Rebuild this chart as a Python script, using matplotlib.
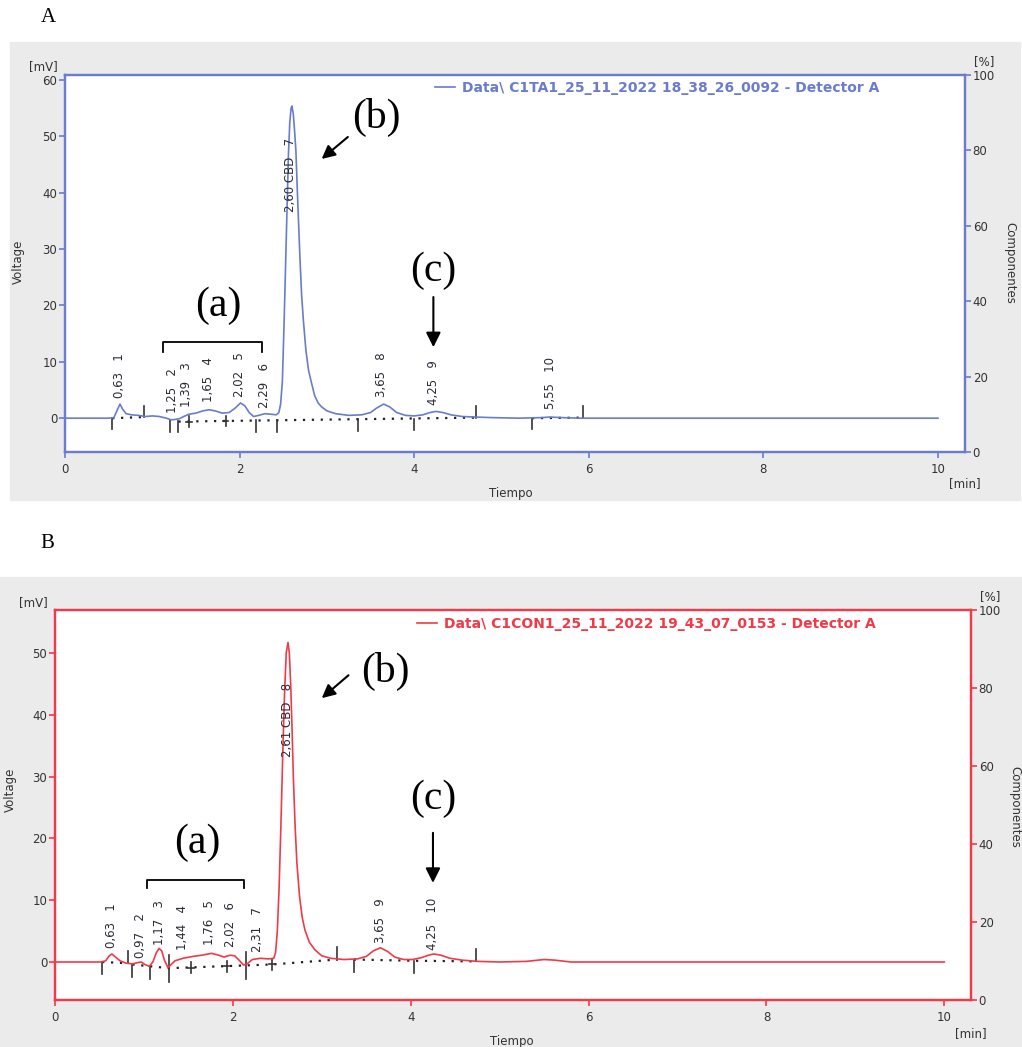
import numpy as np
import matplotlib.pyplot as plt
from matplotlib.patches import Rectangle

# ---- chromatogram A (C1TA1) : time [min], signal [mV]
t_a = [0.0, 0.50, 0.56, 0.60, 0.63, 0.66, 0.70, 0.76, 0.84, 0.92, 1.00, 1.08, 1.16, 1.22, 1.27,
       1.31, 1.36, 1.42, 1.50, 1.58, 1.65, 1.72, 1.80, 1.88, 1.95, 2.01, 2.06, 2.11, 2.16, 2.22,
       2.29, 2.36, 2.42, 2.45, 2.47, 2.49, 2.51, 2.53, 2.545, 2.56, 2.575, 2.59, 2.60, 2.615,
       2.63, 2.645, 2.66, 2.675, 2.69, 2.71, 2.73, 2.76, 2.79, 2.82, 2.86, 2.90, 2.94, 3.00,
       3.10, 3.25, 3.40, 3.50, 3.57, 3.65, 3.72, 3.80, 3.90, 4.00, 4.10, 4.18, 4.25, 4.33, 4.42,
       4.55, 4.70, 4.90, 5.20, 5.45, 5.55, 5.70, 5.90, 10.0]
v_a = [0.0, 0.0, 0.1, 1.5, 2.5, 1.6, 0.8, 0.6, 0.5, 0.3, 0.4, 0.3, 0.0, -0.3, -0.2,
       -0.1, 0.3, 0.7, 0.9, 1.3, 1.5, 1.3, 0.9, 1.0, 1.8, 2.7, 2.2, 1.0, 0.3, 0.5,
       0.8, 0.7, 0.6, 1.0, 2.5, 6.5, 17, 29, 38, 47, 52.5, 55, 55.4, 54,
       51, 47.5, 41, 35, 29, 22, 17.5, 12, 8.5, 6.5, 4.0, 2.7, 2.0, 1.3,
       0.8, 0.5, 0.6, 1.0, 1.8, 2.5, 2.0, 1.0, 0.5, 0.4, 0.6, 1.0, 1.2, 1.0, 0.6,
       0.3, 0.2, 0.1, 0.0, 0.1, 0.2, 0.1, 0.0, 0.0]

lab_a = ["0,63   1", "1,25   2", "1,39   3", "1,65   4", "2,02   5", "2,29   6",
         "2,60 CBD   7", "3,65   8", "4,25   9", "5,55   10"]
lab_a_t = [0.63, 1.23, 1.39, 1.64, 2.00, 2.29, 2.58, 3.62, 4.22, 5.56]
lab_a_y = [3.5, 1.0, 2.0, 2.8, 3.7, 1.8, 36.6, 3.7, 2.3, 1.6]

# integration marks: time, baseline level, kind (d=down, u=up, x=cross)
tick_a_t = [0.54, 0.91, 1.20, 1.30, 1.42, 1.84, 2.19, 2.43, 3.36, 4.00, 4.71, 5.35, 5.93]
tick_a_y = [0.0, 0.2, -0.4, -0.5, -0.6, -0.5, -0.4, -0.4, -0.2, -0.1, 0.1, 0.0, 0.1]
tick_a_k = ['d', 'u', 'd', 'd', 'x', 'x', 'd', 'd', 'd', 'd', 'u', 'd', 'u']
base_a_t = [[0.54, 0.91], [1.30, 4.71], [5.35, 5.93]]
base_a_y = [[0.0, 0.2], [-0.6, 0.1], [0.0, 0.1]]

# ---- chromatogram B (C1CON1)
t_b = [0.0, 0.52, 0.57, 0.61, 0.64, 0.68, 0.73, 0.80, 0.87, 0.93, 0.97, 1.01, 1.06, 1.10,
       1.14, 1.17, 1.20, 1.23, 1.27, 1.30, 1.35, 1.44, 1.55, 1.65, 1.76, 1.84, 1.90, 1.97,
       2.02, 2.07, 2.12, 2.16, 2.22, 2.31, 2.40, 2.46, 2.48, 2.50, 2.52, 2.54, 2.56, 2.58,
       2.60, 2.62, 2.635, 2.65, 2.665, 2.68, 2.70, 2.72, 2.75, 2.78, 2.81, 2.86, 2.92, 3.00,
       3.10, 3.25, 3.40, 3.50, 3.58, 3.66, 3.74, 3.82, 3.92, 4.02, 4.12, 4.20, 4.26, 4.34,
       4.44, 4.58, 4.75, 5.00, 5.30, 5.50, 5.62, 5.80, 10.0]
v_b = [0.0, 0.0, 0.2, 1.0, 1.3, 0.8, 0.2, -0.2, -0.3, -0.1, 0.0, -0.4, -0.7, 0.0,
       1.5, 2.2, 1.8, 0.3, -0.9, -0.5, 0.2, 0.6, 0.9, 1.1, 1.4, 1.1, 0.8, 1.1,
       1.0, 0.3, -0.5, -0.3, 0.4, 0.6, 0.5, 0.6, 1.5, 5, 12, 22, 33, 43,
       50, 51.7, 50, 45, 38, 30, 22, 16, 10.6, 7.2, 5.2, 3.2, 2.0, 1.0,
       0.6, 0.4, 0.5, 0.9, 1.8, 2.3, 1.7, 0.8, 0.4, 0.4, 0.7, 1.1, 1.3, 1.1,
       0.6, 0.3, 0.1, 0.0, 0.1, 0.4, 0.3, 0.0, 0.0]

lab_b = ["0,63   1", "0,97   2", "1,17   3", "1,44   4", "1,76   5", "2,02   6", "2,31   7",
         "2,61 CBD   8", "3,65   9", "4,25   10"]
lab_b_t = [0.64, 0.96, 1.18, 1.43, 1.74, 1.97, 2.28, 2.61, 3.66, 4.25]
lab_b_y = [2.3, 0.7, 2.8, 1.9, 2.8, 2.4, 1.6, 33.2, 3.1, 2.0]

tick_b_t = [0.53, 0.82, 0.87, 1.07, 1.28, 1.53, 1.93, 2.15, 2.44, 3.17, 3.36, 4.04, 4.73]
tick_b_y = [0.0, -0.2, -0.4, -0.8, -1.0, -0.9, -0.7, -0.6, -0.4, 0.4, 0.4, 0.2, 0.1]
tick_b_k = ['d', 'u', 'd', 'd', 'X', 'x', 'x', 'X', 'x', 'u', 'd', 'd', 'u']
base_b_t = [[0.53, 0.82], [0.87, 1.28, 2.44, 3.17], [3.36, 4.04, 4.73]]
base_b_y = [[0.0, -0.2], [-0.4, -1.0, -0.4, 0.4], [0.4, 0.2, 0.1]]

W, H = 1022, 1047
BLUE = '#6a7ccc'
RED = '#f03a48'
GRAY_BG = '#ebebeb'
TXT = '#333333'

fig = plt.figure(figsize=(W / 100, H / 100), dpi=100)


def fx(px):
    return px / W


def fy(py):
    return 1 - py / H


def panel(box, xmax, ylim, t, v, col, legend_txt, leg_xy,
          labs, lab_t, lab_y, tk_t, tk_y, tk_k, bt, by,
          bracket, a_pos, b_pos, b_arrow, c_pos, c_arrow):
    l, top, r, bot = box
    ax = fig.add_axes([fx(l), fy(bot), fx(r) - fx(l), fy(top) - fy(bot)])
    ax.set_facecolor('white')
    ax.plot(t, v, color=col, lw=1.2, label=legend_txt, zorder=3)
    ax.set_xlim(0, xmax)
    ax.set_ylim(*ylim)
    ax.set_xticks([0, 2, 4, 6, 8, 10])
    ax.set_yticks([t_ for t_ in [0, 10, 20, 30, 40, 50, 60] if t_ <= ylim[1]])
    ax.tick_params(axis='x', length=4, width=1.2, color=col, pad=4, labelsize=8.5, labelcolor=TXT)
    ax.tick_params(axis='y', length=4.5, width=1.2, color=col, pad=1, labelsize=8.5, labelcolor=TXT)
    for s in ax.spines.values():
        s.set_color(col)
        s.set_linewidth(1.6)

    ax2 = ax.twinx()
    ax2.set_ylim(0, 100)
    ax2.set_yticks([0, 20, 40, 60, 80, 100])
    ax2.tick_params(axis='y', length=4.5, width=1.2, color=col, pad=1, labelsize=8.5, labelcolor=TXT)
    for s in ax2.spines.values():
        s.set_color(col)
        s.set_linewidth(1.6)

    # integration baseline and marks
    for xs, ys in zip(bt, by):
        ax.plot(xs, ys, color='#222222', lw=1.6, ls=(0, (1, 3)), zorder=2)
    for x0, y0, k in zip(tk_t, tk_y, tk_k):
        if k == 'd':
            y1, y2 = y0 - 2.0, y0
        elif k == 'u':
            y1, y2 = y0, y0 + 2.0
        elif k == 'X':
            y1, y2 = y0 - 2.2, y0 + 2.2
        else:
            y1, y2 = y0 - 0.9, y0 + 0.9
        ax.plot([x0, x0], [y1, y2], color='#333333', lw=1.2, zorder=2)
        if k == 'x':
            ax.plot([x0 - 0.03, x0 + 0.03], [y0, y0], color='#333333', lw=1.2, zorder=2)

    for s, x0, y0 in zip(labs, lab_t, lab_y):
        ax.text(x0, y0, s, rotation=90, ha='center', va='bottom', fontsize=8.5,
                color='#2b2b38', zorder=4)

    # annotations (a) (b) (c)
    bx1, bx2, btop, bleg = bracket
    ax.plot([bx1, bx1, bx2, bx2], [bleg, btop, btop, bleg], color='black', lw=1.3)
    ax.text(a_pos[0], a_pos[1], '(a)', family='Liberation Serif', fontsize=30,
            ha='center', va='center')
    ax.text(b_pos[0], b_pos[1], '(b)', family='Liberation Serif', fontsize=30,
            ha='center', va='center')
    ax.text(c_pos[0], c_pos[1], '(c)', family='Liberation Serif', fontsize=30,
            ha='center', va='center')
    ax.annotate('', xy=b_arrow[1], xytext=b_arrow[0],
                arrowprops=dict(arrowstyle='-|>', color='black', lw=1.5, mutation_scale=20,
                                shrinkA=0, shrinkB=0))
    ax.annotate('', xy=c_arrow[1], xytext=c_arrow[0],
                arrowprops=dict(arrowstyle='-|>', color='black', lw=1.5, mutation_scale=22,
                                shrinkA=0, shrinkB=0))

    leg = ax.legend(loc='center left', bbox_to_anchor=leg_xy, frameon=False,
                    borderpad=0, borderaxespad=0, handlelength=1.45, handletextpad=0.5,
                    prop=dict(family='DejaVu Sans', weight='bold', size=10))
    for tx in leg.get_texts():
        tx.set_color(col)
    return ax


# gray panel backgrounds (behind the axes)
fig.add_artist(Rectangle((fx(10), fy(500)), fx(1020) - fx(10), fy(42) - fy(500),
                         transform=fig.transFigure, color=GRAY_BG, zorder=-5))
fig.add_artist(Rectangle((0, 0), 1, fy(577), transform=fig.transFigure,
                         color=GRAY_BG, zorder=-5))

panel((65, 75, 965, 452), 10.31, (-6.0, 60.9), t_a, v_a, BLUE,
      r'Data\ C1TA1_25_11_2022 18_38_26_0092 - Detector A', (0.411, 0.966),
      lab_a, lab_a_t, lab_a_y, tick_a_t, tick_a_y, tick_a_k, base_a_t, base_a_y,
      (1.12, 2.26, 13.5, 11.7), (1.76, 19.9), (3.57, 53.3), ((3.24, 49.9), (2.94, 46.0)),
      (4.22, 26.1), ((4.22, 21.5), (4.22, 12.6)))

panel((55, 610, 971, 1000), 10.30, (-6.15, 56.96), t_b, v_b, RED,
      r'Data\ C1CON1_25_11_2022 19_43_07_0153 - Detector A', (0.395, 0.964),
      lab_b, lab_b_t, lab_b_y, tick_b_t, tick_b_y, tick_b_k, base_b_t, base_b_y,
      (1.03, 2.13, 13.3, 12.0), (1.60, 19.3), (3.71, 47.0), ((3.30, 46.4), (3.00, 42.7)),
      (4.25, 26.4), ((4.25, 20.9), (4.25, 12.8)))

# panel letters and axis captions
fig.text(fx(48), fy(18), 'A', family='Liberation Serif', fontsize=15, ha='center', va='center')
fig.text(fx(47), fy(543), 'B', family='Liberation Serif', fontsize=15, ha='center', va='center')

for (x, y) in [(43, 67), (33, 603)]:
    fig.text(fx(x), fy(y), '[mV]', fontsize=8.5, color=TXT, ha='center', va='center')
for (x, y) in [(984, 62), (990, 597)]:
    fig.text(fx(x), fy(y), '[%]', fontsize=8.5, color=TXT, ha='center', va='center')
for (x, y) in [(18, 262), (10, 790)]:
    fig.text(fx(x), fy(y), 'Voltage', fontsize=8.5, color=TXT, rotation=90,
             ha='center', va='center')
for (x, y) in [(1010, 263), (1015, 807)]:
    fig.text(fx(x), fy(y), 'Componentes', fontsize=8.5, color=TXT, rotation=-90,
             ha='center', va='center')
for (x, y) in [(511, 493), (512, 1041)]:
    fig.text(fx(x), fy(y), 'Tiempo', fontsize=8.5, color=TXT, ha='center', va='center')
for (x, y) in [(965, 484), (971, 1034)]:
    fig.text(fx(x), fy(y), '[min]', fontsize=8.5, color=TXT, ha='center', va='center')

fig.savefig('out.png', dpi=100)
